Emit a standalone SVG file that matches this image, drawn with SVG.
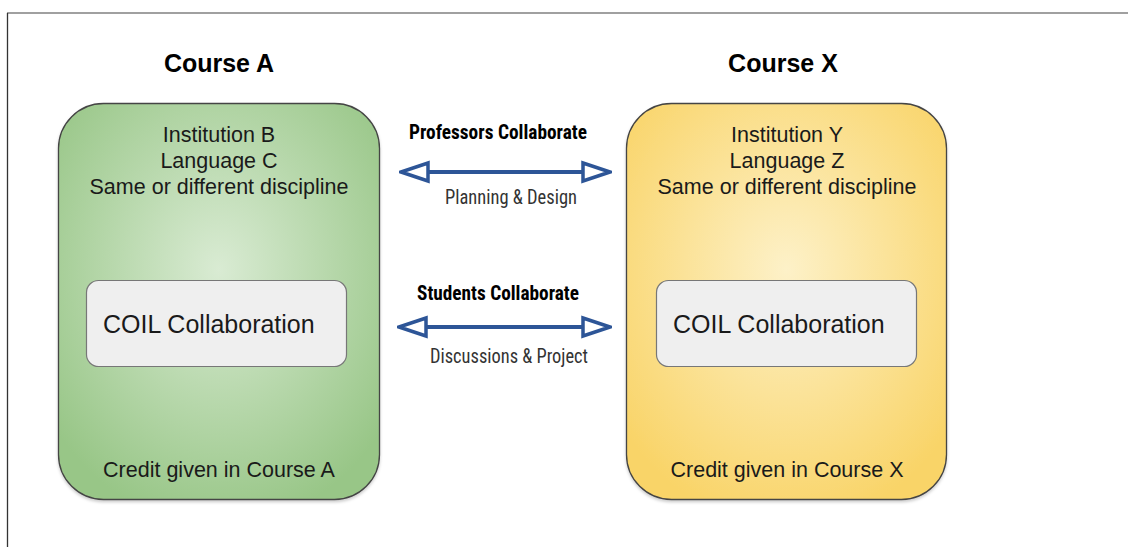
<svg xmlns="http://www.w3.org/2000/svg" width="1129" height="547" viewBox="0 0 1129 547">
  <defs>
    <radialGradient id="gGreen" cx="50%" cy="42%" r="65%">
      <stop offset="0" stop-color="#d9ebd3"/>
      <stop offset="1" stop-color="#98c687"/>
    </radialGradient>
    <radialGradient id="gYellow" cx="50%" cy="42%" r="65%">
      <stop offset="0" stop-color="#fdf1c8"/>
      <stop offset="1" stop-color="#f9d468"/>
    </radialGradient>
    <filter id="sh" x="-10%" y="-10%" width="120%" height="120%">
      <feDropShadow dx="0" dy="2" stdDeviation="1.5" flood-color="#000" flood-opacity="0.2"/>
    </filter>
    <marker id="openHead" viewBox="0 0 32 24" refX="30" refY="12" markerWidth="32" markerHeight="24" markerUnits="userSpaceOnUse" orient="auto-start-reverse">
      <path d="M3,3 L30,12 L3,21 Z" fill="#ffffff" stroke="#2d5597" stroke-width="3.5" stroke-linejoin="miter"/>
    </marker>
  </defs>
  <style>
    .title { font-family: "Liberation Sans", Arial, sans-serif; font-weight: bold; font-size: 25px; fill: #000; text-anchor: middle; }
    .info { font-family: "Liberation Sans", Arial, sans-serif; font-size: 21.5px; fill: #1a1a1a; text-anchor: middle; }
    .coil { font-family: "Liberation Sans", Arial, sans-serif; font-size: 25px; fill: #1a1a1a; }
    .clab { font-family: "Liberation Sans Narrow", "Roboto Condensed", "DejaVu Sans Condensed", sans-serif; font-weight: bold; font-size: 20.5px; fill: #000; }
    .sub { font-family: "Liberation Sans Narrow", "Roboto Condensed", "DejaVu Sans Condensed", sans-serif; font-size: 20.5px; fill: #333; }
    .outer { stroke: #444; stroke-width: 1.3; filter: url(#sh); }
    .inner { fill: #efefef; stroke: #777; stroke-width: 1.2; }
    .conn { stroke: #2d5597; stroke-width: 4; fill: none; }
  </style>

  <rect width="1129" height="547" fill="#ffffff"/>
  <g id="frame">
    <line x1="7" y1="13" x2="1128" y2="13" stroke="#808080" stroke-width="1.5"/>
    <line x1="7.5" y1="13" x2="7.5" y2="547" stroke="#333" stroke-width="1.3"/>
  </g>

  <g id="courseA">
    <text class="title" x="219" y="72">Course A</text>
    <rect class="outer" x="58.5" y="103.5" width="321" height="396" rx="45" fill="url(#gGreen)"/>
    <text class="info" x="219" y="142">Institution B</text>
    <text class="info" x="219" y="168">Language C</text>
    <text class="info" x="219" y="194">Same or different discipline</text>
    <text class="info" x="219" y="477">Credit given in Course A</text>
  </g>
  <g id="coilA">
    <rect class="inner" x="86.5" y="280.5" width="260" height="86" rx="12"/>
    <text class="coil" x="103" y="333">COIL Collaboration</text>
  </g>

  <g id="courseX">
    <text class="title" x="783" y="72">Course X</text>
    <rect class="outer" x="626.5" y="103.5" width="320" height="396" rx="45" fill="url(#gYellow)"/>
    <text class="info" x="787" y="142">Institution Y</text>
    <text class="info" x="787" y="168">Language Z</text>
    <text class="info" x="787" y="194">Same or different discipline</text>
    <text class="info" x="787" y="477">Credit given in Course X</text>
  </g>
  <g id="coilX">
    <rect class="inner" x="656.5" y="280.5" width="260" height="86" rx="12"/>
    <text class="coil" x="673" y="333">COIL Collaboration</text>
  </g>

  <g id="connectors">
    <line class="conn" x1="401" y1="172" x2="610" y2="172" marker-start="url(#openHead)" marker-end="url(#openHead)"/>
    <line class="conn" x1="399" y1="327" x2="610" y2="327" marker-start="url(#openHead)" marker-end="url(#openHead)"/>
    <text class="clab" x="409" y="139" textLength="178" lengthAdjust="spacingAndGlyphs">Professors Collaborate</text>
    <text class="sub" x="445" y="204" textLength="132" lengthAdjust="spacingAndGlyphs">Planning &amp; Design</text>
    <text class="clab" x="417" y="300" textLength="162" lengthAdjust="spacingAndGlyphs">Students Collaborate</text>
    <text class="sub" x="430" y="363" textLength="158" lengthAdjust="spacingAndGlyphs">Discussions &amp; Project</text>
  </g>
</svg>
